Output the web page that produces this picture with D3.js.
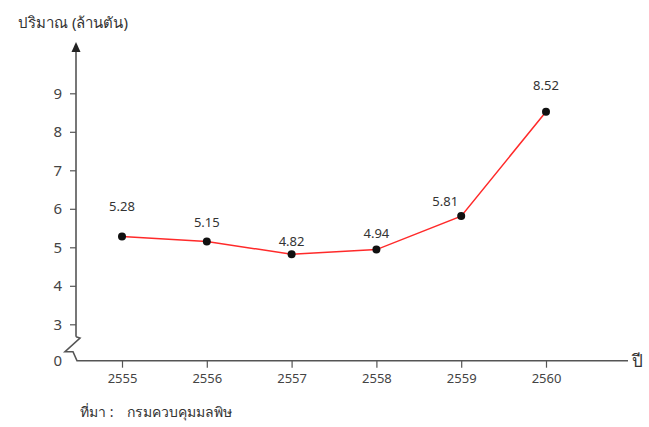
<!DOCTYPE html>
<html><head><meta charset="utf-8">
<script src="https://cdn.jsdelivr.net/npm/d3@7"></script>
<style>
body{margin:0;background:#fff;}
svg{font-family:"Noto Sans","DejaVu Sans",sans-serif;}
</style></head>
<body><svg id="c" width="649" height="427"></svg>
<script>
const years = ["2555","2556","2557","2558","2559","2560"];
const values = [5.28, 5.15, 4.82, 4.94, 5.81, 8.52];
const yTicks = [3,4,5,6,7,8,9];
const yTitle = "ปริมาณ (ล้านตัน)";
const xTitle = "ปี";
const sourceLabel = "ที่มา :";
const sourceName = "กรมควบคุมมลพิษ";
// label placement (layout only)
const labelDy = [-30, -19, -13, -16, -15, -26];
const labelDx = [0, 0, 0, 0, -16, 0];

const svg = d3.select("#c");
const axisColor = "#555";
const x = d3.scalePoint().domain(years).range([122, 546]);
const y = d3.scaleLinear().domain([3, 9]).range([324.3, 93.3]);
const baseY = 360.7, axisX = 76;

const yAxis = svg.append("g").attr("transform", `translate(${axisX},0)`)
  .call(d3.axisLeft(y).tickValues(yTicks).tickSize(6).tickPadding(8).tickFormat(d3.format("d")));
yAxis.select(".domain").remove();
yAxis.selectAll(".tick line").attr("stroke", axisColor).attr("stroke-width", 1.2);
yAxis.selectAll(".tick text").attr("fill", "#444").attr("font-size", 15).attr("font-family", "Noto Sans, sans-serif");

svg.append("line").attr("x1", axisX).attr("x2", axisX).attr("y1", 50).attr("y2", 336.7)
  .attr("stroke", axisColor).attr("stroke-width", 1.6);
svg.append("path").attr("d", `M${axisX},42 L${axisX-4.5},52 L${axisX+4.5},52 Z`).attr("fill", "#222");

svg.append("path").attr("d", `M${axisX},336.7 L${axisX+4},338 L${axisX-11},351.7 L${axisX-3},351.7 L${axisX+1},${baseY} L628,${baseY}`)
  .attr("fill","none").attr("stroke", axisColor).attr("stroke-width", 1.6);
svg.append("text").attr("x", 62).attr("y", baseY).attr("dy","0.36em").attr("text-anchor","end")
  .attr("fill","#444").attr("font-size",15).text("0");

const xAxis = svg.append("g").attr("transform", `translate(0,${baseY})`)
  .call(d3.axisBottom(x).tickSize(7).tickPadding(6));
xAxis.select(".domain").remove();
xAxis.selectAll(".tick line").attr("stroke", axisColor).attr("stroke-width", 1.2);
xAxis.selectAll(".tick text").attr("fill", "#444").attr("font-size", 13).attr("font-family", "Noto Sans, sans-serif");

svg.append("text").attr("x", 632).attr("y", baseY).attr("dy","0.36em").attr("fill","#333").attr("font-size",17).text(xTitle);
svg.append("text").attr("x", 18).attr("y", 28).attr("fill","#333").attr("font-size",15).text(yTitle);
svg.append("text").attr("x", 80).attr("y", 417).attr("fill","#333").attr("font-size",14).text(sourceLabel);
svg.append("text").attr("x", 127).attr("y", 417).attr("fill","#333").attr("font-size",14).text(sourceName);

const data = years.map((d,i)=>({year:d, v:values[i], i}));
svg.append("path").datum(data)
  .attr("d", d3.line().x(d=>x(d.year)).y(d=>y(d.v)))
  .attr("fill","none").attr("stroke","#ff2a2a").attr("stroke-width",1.5);
svg.selectAll("circle.pt").data(data).join("circle").attr("class","pt")
  .attr("cx", d=>x(d.year)).attr("cy", d=>y(d.v)).attr("r", 4).attr("fill","#111");
svg.selectAll("text.lbl").data(data).join("text").attr("class","lbl")
  .attr("x", d=>x(d.year)+labelDx[d.i]).attr("y", d=>y(d.v)+labelDy[d.i]).attr("dy","0.36em")
  .attr("text-anchor","middle").attr("fill","#333").attr("font-size",13)
  .text(d=>d.v.toFixed(2));
</script></body></html>
